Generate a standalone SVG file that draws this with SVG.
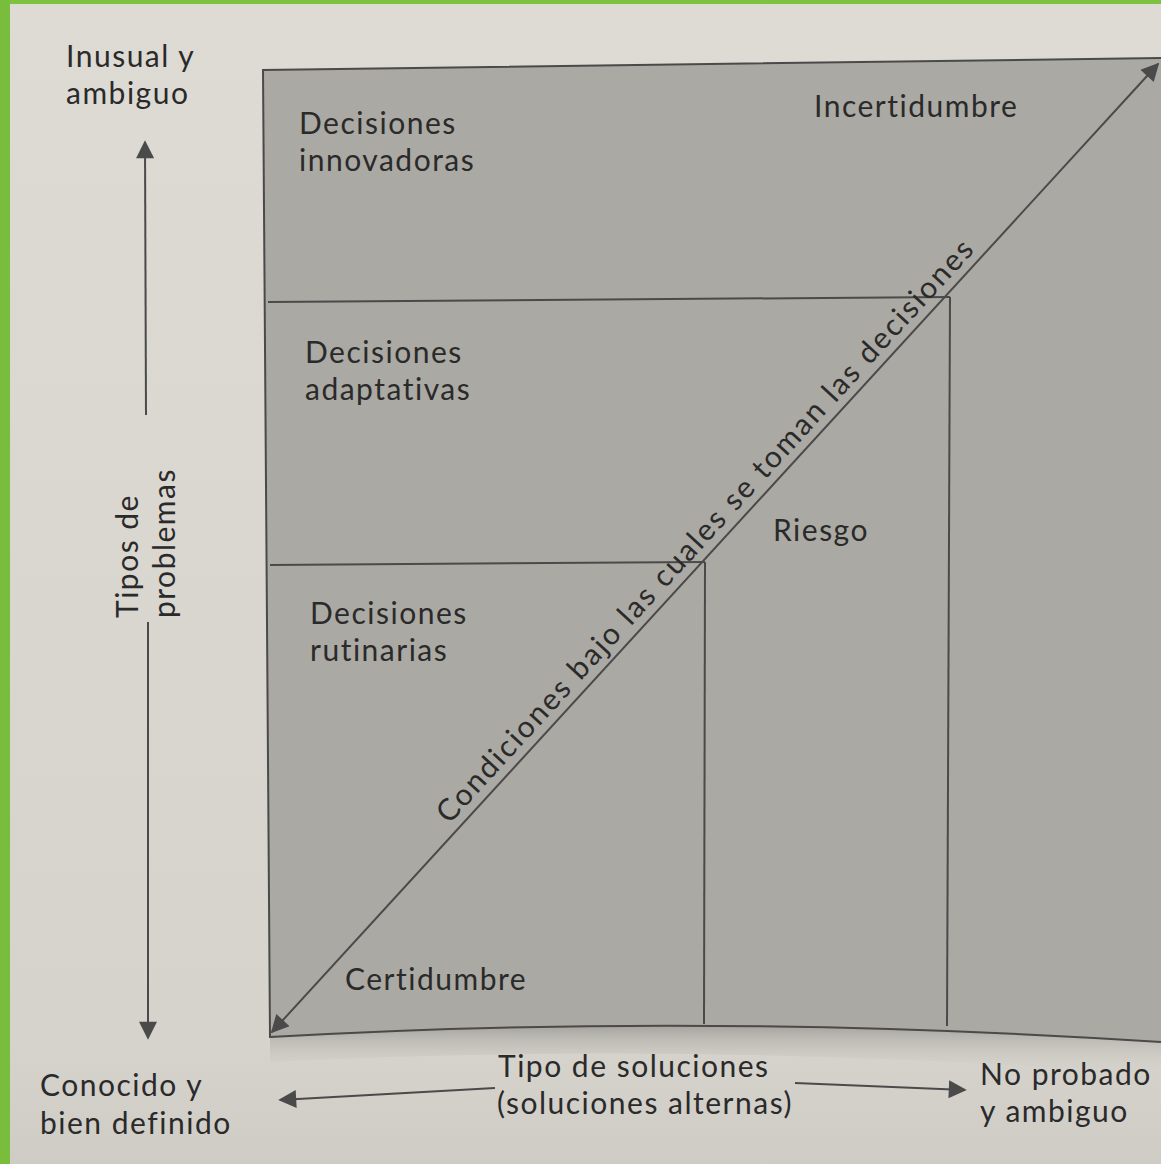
<svg xmlns="http://www.w3.org/2000/svg" width="1161" height="1164" viewBox="0 0 1161 1164">
<defs>
<style>
.t{font-family:Lato,"Open Sans","Liberation Sans",sans-serif;font-size:30px;letter-spacing:1.5px;fill:#2a2a2a}
.ln{stroke:#4a4a4a;stroke-width:2;fill:none}
.ax{stroke:#4a4a4a;stroke-width:2;fill:none}
</style>
<marker id="ah2" viewBox="0 0 10 10" refX="9" refY="5" markerWidth="22" markerHeight="18" markerUnits="userSpaceOnUse" orient="auto-start-reverse">
<path d="M0,0 L10,5 L0,10 z" fill="#4a4a4a"/>
</marker>
<linearGradient id="pg" x1="0" y1="0" x2="0" y2="1">
<stop offset="0" stop-color="#dedbd5"/>
<stop offset="0.9" stop-color="#d6d3cd"/>
<stop offset="1" stop-color="#cfccc6"/>
</linearGradient>
<linearGradient id="sh" x1="0" y1="0" x2="0" y2="1">
<stop offset="0" stop-color="#9a9893" stop-opacity="0.8"/>
<stop offset="1" stop-color="#d6d3cd" stop-opacity="0"/>
</linearGradient>
</defs>
<rect x="0" y="0" width="1161" height="1164" fill="url(#pg)"/>
<rect x="0" y="0" width="1161" height="4" fill="#7dc241"/>
<rect x="0" y="0" width="10" height="1164" fill="#78bd3c"/>

<g id="box">
<path d="M270,1037 Q700,1012 1161,1042 L1161,1075 Q700,1040 270,1062 z" fill="url(#sh)"/>
<path d="M263,70 L1161,58 L1161,1042 Q700,1012 270,1037 z" fill="#aba9a3"/>
<path d="M1161,58 L263,70 L270,1037 Q700,1012 1161,1042" class="ln"/>
</g>

<g id="connectors">
<line x1="268" y1="302" x2="950" y2="297" class="ln"/>
<line x1="950" y1="297" x2="947" y2="1026" class="ln"/>
<line x1="270" y1="565" x2="705" y2="562" class="ln"/>
<line x1="705" y1="562" x2="704" y2="1024" class="ln"/>
<line x1="272" y1="1032" x2="1158" y2="64" class="ax" stroke-width="1.5" marker-start="url(#ah2)" marker-end="url(#ah2)"/>
<line x1="146" y1="415" x2="145" y2="142" class="ax" marker-end="url(#ah2)"/>
<line x1="148" y1="622" x2="148" y2="1038" class="ax" marker-end="url(#ah2)"/>
<line x1="495" y1="1088" x2="280" y2="1100" class="ax" marker-end="url(#ah2)"/>
<line x1="795" y1="1083" x2="965" y2="1090" class="ax" marker-end="url(#ah2)"/>
</g>

<g id="diag-label">
<text class="t" text-anchor="middle" transform="translate(720,544) rotate(-47.5)" x="0" y="-10" textLength="780" lengthAdjust="spacing">Condiciones bajo las cuales se toman las decisiones</text>
</g>

<g id="innovadoras"><text class="t" x="299" y="134">Decisiones</text><text class="t" x="299" y="171">innovadoras</text></g>
<g id="incertidumbre"><text class="t" x="814" y="117">Incertidumbre</text></g>
<g id="adaptativas"><text class="t" x="305" y="363">Decisiones</text><text class="t" x="305" y="400">adaptativas</text></g>
<g id="rutinarias"><text class="t" x="310" y="624">Decisiones</text><text class="t" x="310" y="661">rutinarias</text></g>
<g id="riesgo"><text class="t" x="773" y="541">Riesgo</text></g>
<g id="certidumbre"><text class="t" x="345" y="990">Certidumbre</text></g>

<g id="inusual"><text class="t" x="66" y="67">Inusual y</text><text class="t" x="66" y="104">ambiguo</text></g>
<g id="tipos-problemas">
<text class="t" transform="translate(138,618) rotate(-90)" x="0" y="0">Tipos de</text>
<text class="t" transform="translate(175,618) rotate(-90)" x="0" y="0">problemas</text>
</g>
<g id="conocido"><text class="t" x="40" y="1096">Conocido y</text><text class="t" x="40" y="1134">bien definido</text></g>
<g id="tipo-soluciones"><text class="t" x="498" y="1077">Tipo de soluciones</text><text class="t" x="497" y="1114">(soluciones alternas)</text></g>
<g id="no-probado"><text class="t" x="980" y="1085">No probado</text><text class="t" x="980" y="1122">y ambiguo</text></g>
</svg>
